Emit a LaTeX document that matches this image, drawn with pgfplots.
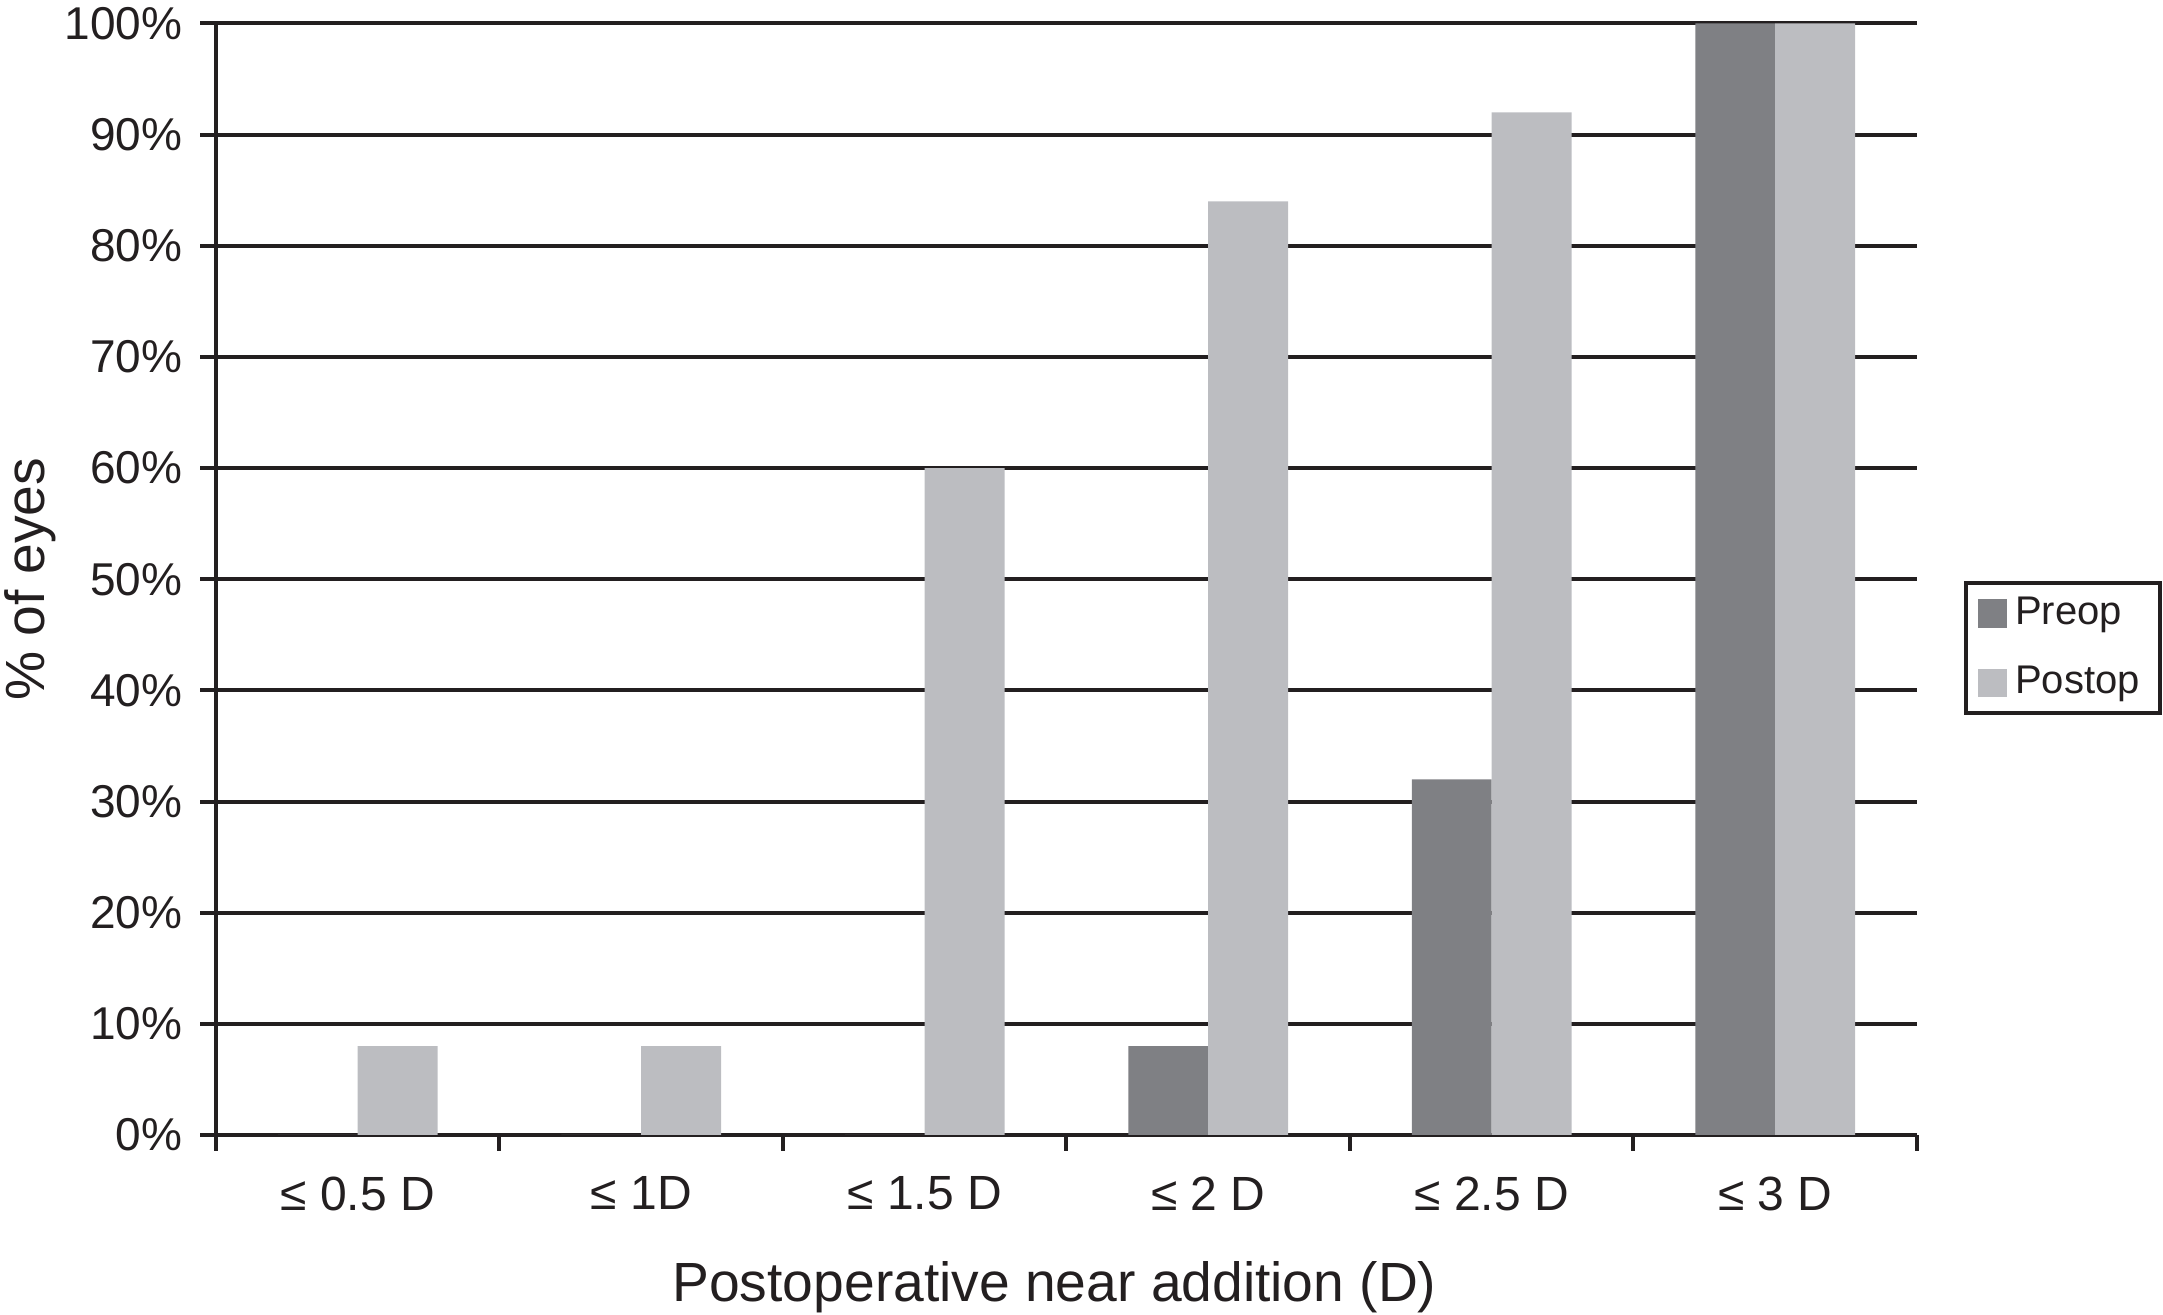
\documentclass[border=0pt]{standalone}
\usepackage{fontspec}
\setmainfont{Liberation Sans}
\usepackage{pgfplots}
\pgfplotsset{compat=1.18}
\definecolor{preop}{RGB}{127,128,132}
\definecolor{postop}{RGB}{188,189,193}
\definecolor{ink}{RGB}{35,31,32}
\begin{document}
\begin{tikzpicture}
\path[use as bounding box] (-54pt,-45pt) rectangle (486.75pt,283.75pt);
\begin{axis}[
  scale only axis,
  width=425.25pt, height=277.875pt,
  xmin=-0.5, xmax=5.5, ymin=0, ymax=100,
  axis x line=bottom, axis y line=left,
  axis line style={ink, line width=1pt, -},
  xtick={-0.5,0.5,...,5.5},
  x tick label as interval,
  xticklabels={≤ 0.5 D,≤ 1D,≤ 1.5 D,≤ 2 D,≤ 2.5 D,≤ 3 D},
  ytick={0,10,...,100},
  yticklabel={\pgfmathprintnumber{\tick}\%},
  /pgf/number format/assume math mode=true,
  tick align=outside,
  major tick length=3.9pt,
  tick style={ink, line width=1pt},
  ymajorgrids,
  grid style={ink, line width=1pt},
  tick label style={font=\fontsize{11.5}{13}\selectfont, text=ink},
  x tick label style={yshift=-3pt, font=\fontsize{12}{14}\selectfont},
  y tick label style={xshift=-1pt},
  xlabel={Postoperative near addition (D)},
  ylabel={\% of eyes},
  label style={font=\fontsize{13.8}{16}\selectfont, text=ink},
  xlabel style={at={(axis description cs:0.5,0)}, anchor=center, yshift=-38pt, xshift=-3pt},
  ylabel style={at={(axis description cs:-0.1094,0.5)}, anchor=center},
  ybar, bar width=0.282,
  legend style={draw=ink, line width=1pt, at={(1,0.438)}, anchor=west, xshift=11.8pt,
    font=\fontsize{10}{12}\selectfont, inner xsep=3pt, inner ysep=1.4pt,
    row sep=5pt, cells={anchor=west, text=ink}},
  legend image code/.code={\fill[#1] (0pt,-3.6pt) rectangle (7.25pt,3.6pt);},
]
\addplot[fill=preop, draw=none, bar shift=-0.141] coordinates {(0,0) (1,0) (2,0) (3,8) (4,32) (5,100)};
\addplot[fill=postop, draw=none, bar shift=0.141] coordinates {(0,8) (1,8) (2,60) (3,84) (4,92) (5,100)};
\legend{Preop,Postop}
\end{axis}
\end{tikzpicture}
\end{document}
